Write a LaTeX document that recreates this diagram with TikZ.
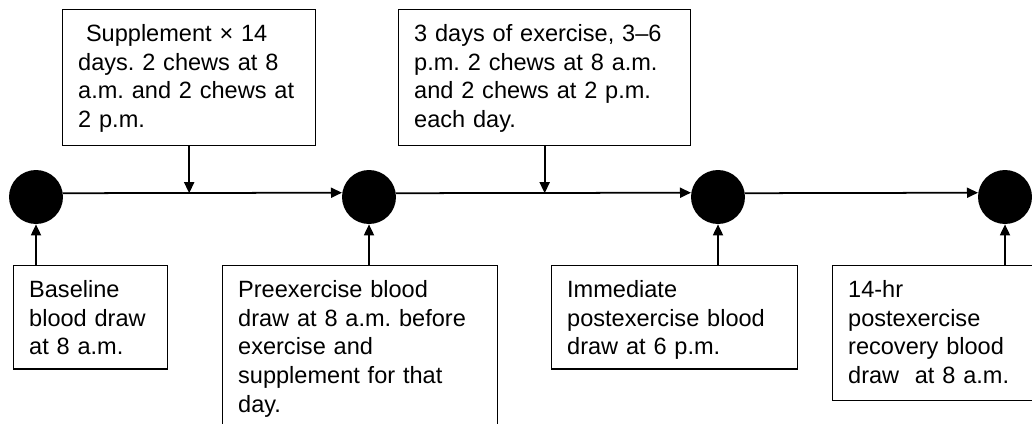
\documentclass[tikz,border=0pt]{standalone}
\usepackage{fontspec}
\setmainfont{Liberation Sans}
\usetikzlibrary{arrows.meta}
\usetikzlibrary{calc}

\tikzset{
  dot/.style={circle, fill=black, inner sep=0pt, minimum size=1.08cm},
  note/.style={draw, line width=0.8pt, anchor=north west, align=left, text width=#1,
    inner xsep=0.31cm, inner ysep=0.3cm, text height=0.34cm,
    font=\fontsize{13.4}{16.3}\selectfont\frenchspacing},
  link/.style={line width=1pt, -{Triangle[length=0.22cm,width=0.2cm]}}
}

\begin{document}
\begin{tikzpicture}[x=0.02cm, y=-0.02cm]

      \useasboundingbox (0,0) rectangle (1032,423);
      \clip (0,0) rectangle (1032,423);

      % Time points
      \node[dot] (t1) at (36,197) {};
      \node[dot] (t2) at (369,197) {};
      \node[dot] (t3) at (718,197) {};
      \node[dot] (t4) at (1005,197) {};

      % Timeline
      \draw[link] (t1.8.5) -- (t2.171.5);
      \draw[link] (t2.8.5) -- (t3.171.5);
      \draw[link] (t3.8.5) -- (t4.171.5);

      % Top notes
      \node[note=4.44cm, text depth=1.78cm] (supp) at (62,9)
        {~Supplement × 14\\days. 2 chews at 8\\a.m. and 2 chews at\\2 p.m.};
      \node[note=5.22cm, text depth=1.78cm] (exer) at (398,9)
        {3 days of exercise, 3–6\\p.m. 2 chews at 8 a.m.\\and 2 chews at 2 p.m.\\each day.};

      \draw[link] (supp.south) -- (supp.south |- t1.8.5);
      \draw[link] (exer.south) -- (exer.south |- t2.8.5);

      % Bottom notes
      \node[note=2.46cm, text depth=1.13cm] (base) at (13,265)
        {Baseline\\blood draw\\at 8 a.m.};
      \node[note=4.88cm, text depth=2.36cm] (pre) at (222,265)
        {Preexercise blood\\draw at 8 a.m. before\\exercise and\\supplement for that\\day.};
      \node[note=4.3cm, text depth=1.13cm] (post) at (551,265)
        {Immediate\\postexercise blood\\draw at 6 p.m.};
      \node[note=3.5cm, text depth=1.76cm] (recov) at (832,265)
        {14-hr\\postexercise\\recovery blood\\draw\ \ at 8 a.m.};

      \draw[link] (t1.south |- base.north) -- (t1.south);
      \draw[link] (t2.south |- pre.north) -- (t2.south);
      \draw[link] (t3.south |- post.north) -- (t3.south);
      \draw[link] (t4.south |- recov.north) -- (t4.south);

\end{tikzpicture}
\end{document}
